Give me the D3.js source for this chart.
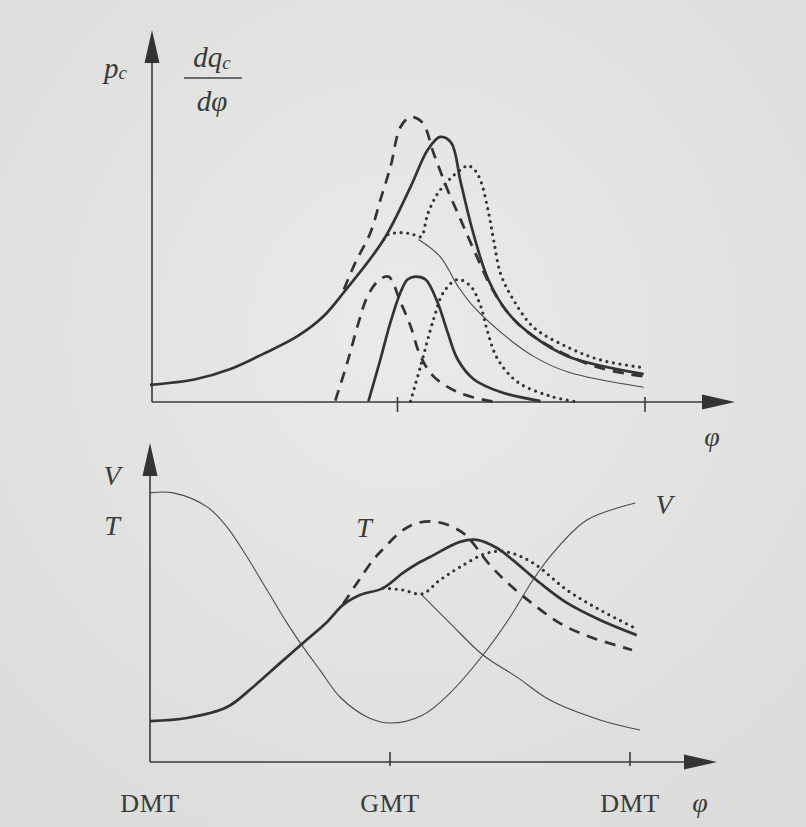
<!DOCTYPE html>
<html>
<head>
<meta charset="utf-8">
<script src="https://d3js.org/d3.v7.min.js"></script>
<style>
  body { margin: 0; background: #e3e3e1; }
  text { font-family: "Liberation Serif", "DejaVu Serif", serif; fill: #3a3a3a; }
  .it { font-style: italic; }
  .ink { fill: none; stroke: #333; stroke-linejoin: round; }
  .thick { stroke-width: 2.7; }
  .thin { stroke-width: 1.1; stroke: #4a4a4a; }
  .dash { stroke-width: 2.7; stroke-dasharray: 11 8; }
  .dot { stroke-width: 3.2; stroke-dasharray: 0 6.6; stroke-linecap: round; }
  .axis { stroke: #3a3a3a; stroke-width: 1.6; fill: none; }
</style>
</head>
<body>
<svg id="chart" width="806" height="827"></svg>
<script>
// crank angle in degrees: -180 = DMT, 0 = GMT, 180 = DMT
// upper panel: cylinder pressure and heat release rate (arbitrary units 0..100)
var pressureSolid = [[-180,6],[-147,8],[-122,11.5],[-98,16.8],[-73,23],[-54,30],[-39,38.5],[-10,57],[9.5,75.5],[22,88.5],[31,93],[39,91],[46,77],[55,59.4],[66,43],[80,31.5],[99,23],[124,16],[179,9.8]];
var pressureDashed = [[-39,39.5],[-30.6,49],[-19.7,59.4],[-12.4,71],[-5.1,82.5],[2.2,96.5],[9.5,100],[18.2,98],[26.2,87.4],[36.4,74.5],[45.9,64],[55.4,53.5],[67.8,40.6],[80,31.5],[94.7,24.5],[118.8,17.5],[142.8,12.6],[167.6,9.8],[179.3,9]];
var pressureDotted = [[-10,57],[-7,58.7],[2,59.4],[10,59],[17,58],[22,66],[29,73],[39,78.7],[48,82.2],[51,83],[56,81.5],[60.5,77.6],[66,67],[70,56.6],[75,45],[84.5,35.7],[99,26.2],[124,19.2],[148,14.7],[177,12.2]];
var pressureMotoring = [[15.3,57],[31,51],[44,40.6],[55,33.6],[75,24.5],[99,16],[124,10.5],[179,5.2]];
var heatDashed = [[-45.2,0.5],[-36.4,14],[-29.1,26.6],[-21.9,37],[-14,42.5],[-6.6,44],[2.2,35],[9.5,26.6],[16.8,16],[26.2,9],[43.7,3.5],[67.8,0.3],[75,0]];
var heatSolid = [[-21.1,0.3],[-12.4,15],[-5.1,28],[2.2,38.5],[7.3,43],[13.1,44],[20.4,43],[29.1,35],[36.4,24.5],[43.7,15],[55.4,8],[75,3.5],[104,0.3]];
var heatDotted = [[9.5,0.3],[16.8,12.6],[26.2,29],[33.5,38.5],[43.7,43],[53.2,40.6],[60.5,33.6],[65.6,24.5],[72.9,15],[87.4,7],[111.5,2],[131,0]];

// lower panel: cylinder volume and gas temperature (arbitrary units 0..100)
var volume = [[-180,95.4],[-162.7,95.4],[-137.2,90.4],[-122.2,83.2],[-107.2,72.5],[-92.2,60.7],[-77.2,48.9],[-65.2,40.4],[-52.5,32.1],[-37.5,22.5],[-17.2,15.4],[0,13.2],[24.7,16.1],[45,23.9],[69.7,37.5],[90,51],[107.2,64.3],[122.2,73.9],[147.7,85.7],[184,91.8]];
var tempSolid = [[-180,13.9],[-152.2,15],[-122.2,18.9],[-102.7,26.1],[-82.5,34.6],[-65.2,41.8],[-47.2,49.3],[-35.2,55.4],[-22.5,58.9],[-5.2,61.4],[9.7,66.8],[22.5,70.7],[30,72.5],[52.5,77.9],[65.2,78.6],[80.2,75.7],[92.2,71.4],[112.5,63.2],[132.7,56.1],[157.5,50],[185,44.6]];
var tempDashed = [[-35.2,55.7],[-24.7,63.2],[-12.7,71.4],[-3.7,76.1],[9.7,82.1],[20.2,84.6],[35.2,85],[54.7,81.1],[75,69.6],[90,62.5],[110.2,54.6],[129.7,48.2],[152.2,43.6],[181.5,39.3]];
var tempDotted = [[-5.2,61.4],[9.7,60.7],[24,59.3],[37.5,64.3],[52.5,68.9],[72.7,73.9],[87.7,74.3],[107.2,70.4],[132.7,60.7],[157.5,53.6],[182.2,47.5]];
var tempMotoring = [[24,58.9],[45,48.9],[69.7,37.5],[95.2,29.6],[120,21.4],[157.5,14.3],[187.5,10.7]];

var tickPhi = [-180, 0, 180];
var tickLabels = ["DMT", "GMT", "DMT"];

var svg = d3.select("#chart");

// paper background, a bit lighter in the middle like the photo
var defs = svg.append("defs");
var grad = defs.append("radialGradient").attr("id", "paper")
    .attr("cx", "50%").attr("cy", "40%").attr("r", "70%");
grad.append("stop").attr("offset", "0%").attr("stop-color", "#eaeae8");
grad.append("stop").attr("offset", "100%").attr("stop-color", "#dcdcda");
svg.append("rect").attr("width", 806).attr("height", 827).attr("fill", "url(#paper)");

var xTop = d3.scaleLinear().domain([-180, 180]).range([150, 645]);
var yTop = d3.scaleLinear().domain([0, 100]).range([402, 117]);
var xBot = d3.scaleLinear().domain([-180, 180]).range([150, 630]);
var yBot = d3.scaleLinear().domain([0, 100]).range([760, 480]);

function drawCurve(data, xs, ys, cls) {
    var line = d3.line()
        .x(function (d) { return xs(d[0]); })
        .y(function (d) { return ys(d[1]); })
        .curve(d3.curveCatmullRom.alpha(0.5));
    svg.append("path").attr("class", "ink " + cls).attr("d", line(data));
}

function drawAxes(x0, yAxis, yTip, xTip, ticks, tickUp, tickDown) {
    var len = 33, half = 7.5;
    svg.append("line").attr("class", "axis")
        .attr("x1", x0).attr("y1", yAxis).attr("x2", x0).attr("y2", yTip + len - 2);
    svg.append("line").attr("class", "axis")
        .attr("x1", x0).attr("y1", yAxis).attr("x2", xTip - len + 2).attr("y2", yAxis);
    svg.append("path").attr("fill", "#333")
        .attr("d", "M" + x0 + "," + yTip + "L" + (x0 + half) + "," + (yTip + len) + "L" + (x0 - half) + "," + (yTip + len) + "Z");
    svg.append("path").attr("fill", "#333")
        .attr("d", "M" + xTip + "," + yAxis + "L" + (xTip - len) + "," + (yAxis - half) + "L" + (xTip - len) + "," + (yAxis + half) + "Z");
    ticks.forEach(function (tx) {
        svg.append("line").attr("class", "axis").attr("stroke-width", 1.2)
            .attr("x1", tx).attr("x2", tx).attr("y1", yAxis - tickUp).attr("y2", yAxis + tickDown);
    });
}

// ---------- upper panel ----------
drawAxes(152, 402, 30, 735, [xTop(0), xTop(180)], 5, 10);

drawCurve(pressureMotoring, xTop, yTop, "thin");
drawCurve(pressureSolid, xTop, yTop, "thick");
drawCurve(pressureDashed, xTop, yTop, "dash");
drawCurve(pressureDotted, xTop, yTop, "dot");
drawCurve(heatDashed, xTop, yTop, "dash");
drawCurve(heatSolid, xTop, yTop, "thick");
drawCurve(heatDotted, xTop, yTop, "dot");

var pc = svg.append("text").attr("class", "it").attr("x", 104).attr("y", 78).attr("font-size", 29);
pc.append("tspan").text("p");
pc.append("tspan").attr("font-size", 19).attr("dy", 1).text("c");

var num = svg.append("text").attr("class", "it").attr("x", 212).attr("y", 67)
    .attr("text-anchor", "middle").attr("font-size", 29);
num.append("tspan").text("dq");
num.append("tspan").attr("font-size", 19).attr("dy", 2).text("c");
svg.append("line").attr("x1", 184).attr("x2", 242).attr("y1", 78).attr("y2", 78)
    .attr("stroke", "#444").attr("stroke-width", 1.4);
svg.append("text").attr("class", "it").attr("x", 212).attr("y", 111)
    .attr("text-anchor", "middle").attr("font-size", 29).text("dφ");

svg.append("text").attr("class", "it").attr("x", 712).attr("y", 446)
    .attr("text-anchor", "middle").attr("font-size", 28).text("φ");

// ---------- lower panel ----------
drawAxes(150, 762, 443, 717, [xBot(0), xBot(180)], 10, 4);

drawCurve(volume, xBot, yBot, "thin");
drawCurve(tempMotoring, xBot, yBot, "thin");
drawCurve(tempSolid, xBot, yBot, "thick");
drawCurve(tempDashed, xBot, yBot, "dash");
drawCurve(tempDotted, xBot, yBot, "dot");

svg.append("text").attr("class", "it").attr("x", 112).attr("y", 485)
    .attr("text-anchor", "middle").attr("font-size", 28).text("V");
svg.append("text").attr("class", "it").attr("x", 112).attr("y", 535)
    .attr("text-anchor", "middle").attr("font-size", 28).text("T");
svg.append("text").attr("class", "it").attr("x", 364).attr("y", 537)
    .attr("text-anchor", "middle").attr("font-size", 28).text("T");
svg.append("text").attr("class", "it").attr("x", 664).attr("y", 514)
    .attr("text-anchor", "middle").attr("font-size", 28).text("V");

svg.selectAll(".tick-label")
    .data(tickLabels)
    .enter().append("text")
    .attr("class", "tick-label")
    .attr("x", function (d, i) { return xBot(tickPhi[i]); })
    .attr("y", 812)
    .attr("text-anchor", "middle")
    .attr("font-size", 26)
    .attr("letter-spacing", 0.5)
    .text(function (d) { return d; });

svg.append("text").attr("class", "it").attr("x", 700).attr("y", 812)
    .attr("text-anchor", "middle").attr("font-size", 28).text("φ");
</script>
</body>
</html>
